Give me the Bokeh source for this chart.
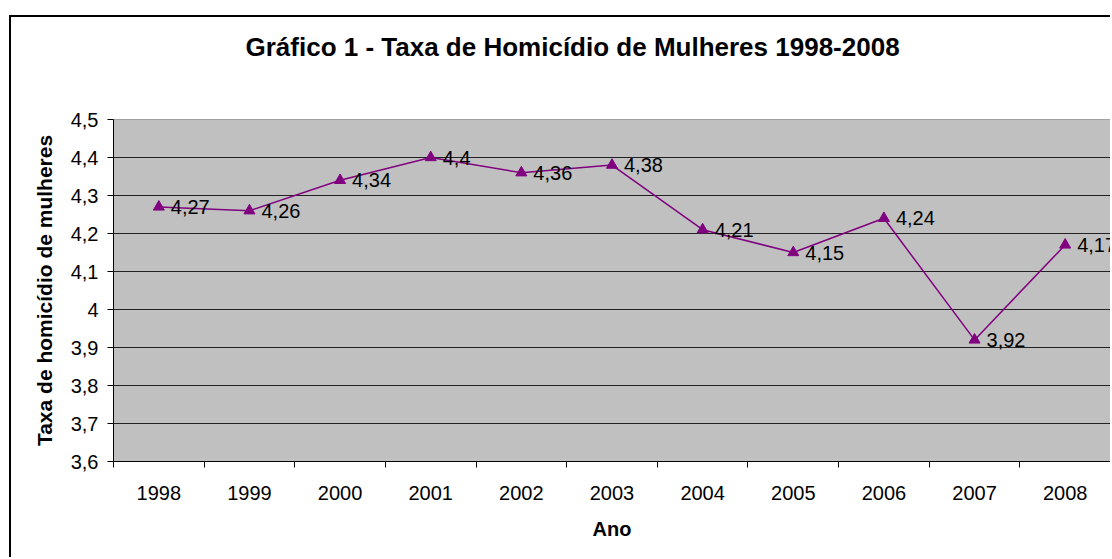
import numpy as np
from bokeh.plotting import figure
from bokeh.models import (Range1d, FixedTicker, CustomJSTickFormatter, ColumnDataSource, Title)
from bokeh.embed import file_html
from bokeh.resources import INLINE

years = ["1998", "1999", "2000", "2001", "2002", "2003", "2004", "2005", "2006", "2007", "2008"]
taxa = [4.27, 4.26, 4.34, 4.4, 4.36, 4.38, 4.21, 4.15, 4.24, 3.92, 4.17]
y_ticks = [3.6, 3.7, 3.8, 3.9, 4.0, 4.1, 4.2, 4.3, 4.4, 4.5]

FONT = "Liberation Sans"
x = list(range(1, len(years) + 1))
labels = [f"{v:g}".replace(".", ",") for v in taxa]
src = ColumnDataSource(dict(x=x, y=taxa, lab=labels))

# canvas origin is shifted by margin (9, 15) + 2px border
OX, OY = 11, 17
W, H = 1112 - OX, 559 - OY
p = figure(width=W, height=H, output_backend="svg", toolbar_location=None,
           x_range=Range1d(0.5, len(years) + 0.5), y_range=Range1d(y_ticks[0], y_ticks[-1]),
           min_border_left=113 - OX, min_border_right=2, min_border_top=119 - OY,
           min_border_bottom=559 - 461)
p.margin = (15, 0, 0, 9)
p.styles = {"border-top": "2px solid black", "border-left": "2px solid black"}
p.background_fill_color = "#C0C0C0"
p.border_fill_color = "white"
p.outline_line_color = "#A0A0A0"
p.outline_line_width = 1

# real title, with an empty spacer title between it and the plot area
p.title = Title(text="Gráfico 1 - Taxa de Homicídio de Mulheres 1998-2008",
                text_font=FONT, text_font_size="26px", text_font_style="bold",
                text_color="black", align="left", offset=132, standoff=0)
p.add_layout(Title(text=" ", text_font=FONT, text_font_size="50px", standoff=0), "above")

# x axis
xa = p.xaxis[0]
xa.ticker = FixedTicker(ticks=x, minor_ticks=[i + 0.5 for i in range(0, len(years) + 1)])
xa.major_label_overrides = {i: y for i, y in zip(x, years)}
xa.major_tick_out = 0
xa.major_tick_in = 0
xa.minor_tick_out = 6
xa.minor_tick_in = 0
xa.minor_tick_line_color = "black"
xa.axis_line_color = "black"
xa.major_label_text_font = FONT
xa.major_label_text_font_size = "20px"
xa.major_label_text_color = "black"
xa.major_label_standoff = 18
xa.axis_label = "Ano"
xa.axis_label_text_font = FONT
xa.axis_label_text_font_size = "20px"
xa.axis_label_text_font_style = "bold"
xa.axis_label_text_color = "black"
xa.axis_label_standoff = 15
p.xgrid.visible = False

# y axis
ya = p.yaxis[0]
ya.ticker = FixedTicker(ticks=y_ticks, minor_ticks=[])
ya.formatter = CustomJSTickFormatter(code="""
    const v = Math.round(tick * 10) / 10;
    return v.toString().replace('.', ',');
""")
ya.major_tick_out = 6
ya.major_tick_in = 0
ya.major_tick_line_color = "black"
ya.axis_line_color = "black"
ya.major_label_text_font = FONT
ya.major_label_text_font_size = "20px"
ya.major_label_text_color = "black"
ya.major_label_standoff = 9
ya.axis_label = "Taxa de homicídio de mulheres"
ya.axis_label_text_font = FONT
ya.axis_label_text_font_size = "21px"
ya.axis_label_text_font_style = "bold"
ya.axis_label_text_color = "black"
ya.axis_label_standoff = 12
p.ygrid.ticker = FixedTicker(ticks=y_ticks[1:-1])
p.ygrid.grid_line_color = "#222222"
p.ygrid.grid_line_width = 1

# series
p.line("x", "y", source=src, line_color="#800080", line_width=1.5)
p.scatter("x", "y", source=src, marker="triangle", size=11, fill_color="#800080",
          line_color="#800080")
p.text("x", "y", text="lab", source=src, x_offset=12, text_baseline="middle",
       text_align="left", text_font_size="20px", text_color="black",
       text_font={"value": FONT})

open("out.html", "w").write(file_html(p, INLINE))
